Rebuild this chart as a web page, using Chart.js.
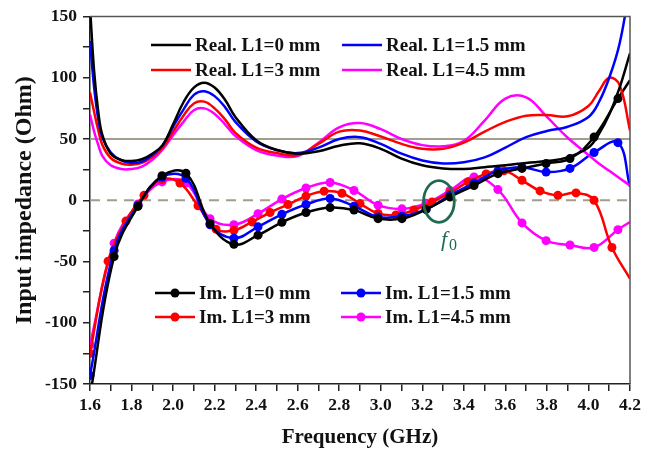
<!DOCTYPE html>
<html>
<head>
<meta charset="utf-8">
<script src="https://cdn.jsdelivr.net/npm/chart.js@4.4.1/dist/chart.umd.min.js"></script>
<style>
  html, body { margin: 0; padding: 0; background: #fff; }
</style>
</head>
<body>
<canvas id="impedance-chart" width="656" height="453"></canvas>
<script>
// frequency points (GHz) for the real parts
const freqReal = [1.6, 1.62, 1.64, 1.66, 1.7, 1.75, 1.8, 1.85, 1.9, 1.95,
  2.0, 2.05, 2.1, 2.15, 2.2, 2.25, 2.3,
  2.4, 2.5, 2.6, 2.7, 2.8, 2.9, 3.0, 3.1, 3.2, 3.3, 3.4, 3.5, 3.6, 3.7, 3.8, 3.9, 4.0,
  4.05, 4.1, 4.15, 4.2];

const realL0  = [158, 105, 72, 53, 38, 33, 32, 33.5, 38, 45, 62, 80, 92, 96, 92, 82, 68,
  49, 41, 38, 40, 44.5, 46.5, 42, 34, 28.5, 26, 25.5, 27, 28.5, 30.5, 32, 35, 43, 54, 70, 92, 120];
const realL15 = [130, 92, 66, 51, 39, 32.5, 30.5, 31.5, 37, 45, 60, 74, 86, 89, 85, 76, 64,
  48, 41, 38.5, 43, 50, 51.5, 46, 38, 32.5, 30, 31, 35, 43, 51.5, 56.5, 60, 68, 80, 100, 128, 175];
const realL3  = [88, 72, 57, 45, 34.5, 30, 29, 30.5, 35.5, 43, 56, 69, 79, 80.5, 75, 66, 55,
  43, 38.5, 37, 46, 56, 57, 52, 46, 42, 42, 47, 56, 64, 69, 69.5, 68.5, 77, 89, 100, 94, 57];
const realL45 = [70, 56, 45, 36, 28.5, 25.5, 25.5, 27.5, 33, 41.5, 53, 64, 73.5, 75, 70.5, 62, 52.5,
  41, 36.5, 36, 47, 59.5, 63, 58, 50, 45, 44, 48.5, 65, 83, 84, 68, 51, 37, 30, 24, 18, 12];

// imaginary parts: L1=0, 1.5, 4.5 mm sampled on one grid, L1=3 mm on another
const imFreqA = [1.6, 1.716, 1.831, 1.947, 2.062, 2.178, 2.293, 2.409, 2.524, 2.64, 2.756, 2.871,
  2.987, 3.102, 3.218, 3.333, 3.449, 3.564, 3.68, 3.796, 3.911, 4.027, 4.142, 4.2];
const imL0  = [-160, -46, -5, 20, 22, -19, -36, -28.5, -18, -10, -6, -8,
  -15, -15, -7.5, 2.7, 12, 21.7, 26, 30, 34, 51.6, 83, 98];
const imL15 = [-143, -41, -4, 19, 18, -20, -31, -21.7, -11.5, -3.5, 1.4, -4.8,
  -13.6, -13, -7.5, 4, 14, 24, 27, 23, 26, 39, 47, 11];
const imL45 = [-118, -35, -3, 15, 14, -15, -20, -11, 1, 10, 14.5, 8,
  -4, -7, -2.5, 8, 19, 8.7, -18.5, -33, -36.5, -38.5, -24, -17.7];

const imFreqB = [1.6, 1.687, 1.773, 1.86, 1.947, 2.033, 2.12, 2.207, 2.293, 2.38, 2.467, 2.553,
  2.64, 2.727, 2.813, 2.9, 2.987, 3.073, 3.16, 3.247, 3.333, 3.42, 3.507, 3.593, 3.68, 3.767,
  3.853, 3.94, 4.027, 4.113, 4.2];
const imL3 = [-125, -49.7, -17, 4, 17, 14, -4.5, -23.6, -24.5, -17.7, -10, -3.5,
  3.4, 7.4, 5.7, -2.7, -10.8, -12, -8, -1.4, 6, 15, 21.5, 24, 16.3, 7.6,
  4, 6, 0, -38.6, -64];

const refLevels = [50, 0];   // 50 Ohm line and zero line
const f0Mark = { x: 3.28, y: -1, rx: 0.074, ry: 17 };

const serif = '"Liberation Serif", "Times New Roman", serif';

function pts(xs, ys) {
  return xs.map((x, i) => ({ x: x, y: ys[i] }));
}

function realSet(label, color, ys) {
  return {
    label: label, data: pts(freqReal, ys), borderColor: color, backgroundColor: color,
    borderWidth: 2.5, pointRadius: 0, tension: 0.4, fill: false
  };
}

function imSet(label, color, xs, ys) {
  return {
    label: label, data: pts(xs, ys), borderColor: color, backgroundColor: color,
    borderWidth: 2.5, tension: 0.4, fill: false,
    pointRadius: (c) => (c.raw && c.raw.x > 4.19) ? 0 : 4.5,
    pointBorderWidth: 0
  };
}

function refSet(level, dash) {
  return {
    label: '', data: [{ x: 1.6, y: level }, { x: 4.2, y: level }],
    borderColor: '#a39d8d', borderWidth: 2, borderDash: dash, pointRadius: 0, order: 10
  };
}

// two legend blocks drawn by hand, like in the figure
const legendBlocks = {
  id: 'legendBlocks',
  afterDatasetsDraw(chart) {
    const ctx = chart.ctx;
    const ds = chart.data.datasets;
    const spots = [
      [0, 151, 45], [1, 342, 45], [2, 151, 70], [3, 342, 70],
      [4, 155, 293], [5, 341, 293], [6, 155, 317], [7, 341, 317]
    ];
    ctx.save();
    ctx.font = 'bold 19px ' + serif;
    ctx.textBaseline = 'middle';
    spots.forEach(([i, x, y]) => {
      const d = ds[i];
      ctx.strokeStyle = d.borderColor;
      ctx.lineWidth = 2.5;
      ctx.beginPath();
      ctx.moveTo(x, y);
      ctx.lineTo(x + 40, y);
      ctx.stroke();
      if (typeof d.pointRadius === 'function') {
        ctx.fillStyle = d.borderColor;
        ctx.beginPath();
        ctx.arc(x + 20, y, 4.5, 0, Math.PI * 2);
        ctx.fill();
      }
      ctx.fillStyle = '#111';
      ctx.fillText(d.label, x + 44, y + 1);
    });
    ctx.restore();
  }
};

// frame on top/right and the f0 ellipse
const extras = {
  id: 'extras',
  afterDatasetsDraw(chart) {
    const ctx = chart.ctx;
    const a = chart.chartArea;
    const xs = chart.scales.x, ys = chart.scales.y;
    ctx.save();
    ctx.strokeStyle = '#555';
    ctx.lineWidth = 1.5;
    ctx.beginPath();
    ctx.moveTo(a.left, a.top);
    ctx.lineTo(a.right, a.top);
    ctx.lineTo(a.right, a.bottom);
    ctx.stroke();

    const cx = xs.getPixelForValue(f0Mark.x);
    const cy = ys.getPixelForValue(f0Mark.y);
    const rx = xs.getPixelForValue(f0Mark.x + f0Mark.rx) - cx;
    const ry = cy - ys.getPixelForValue(f0Mark.y + f0Mark.ry);
    ctx.strokeStyle = '#1f6b4f';
    ctx.lineWidth = 2.8;
    ctx.beginPath();
    ctx.ellipse(cx, cy, rx, ry, 0, 0, Math.PI * 2);
    ctx.stroke();

    ctx.fillStyle = '#1f6b4f';
    ctx.textBaseline = 'alphabetic';
    ctx.font = 'italic 22px ' + serif;
    const fx = xs.getPixelForValue(3.29);
    const fy = ys.getPixelForValue(-37);
    ctx.fillText('f', fx, fy);
    ctx.font = '16px ' + serif;
    ctx.fillText('0', fx + 8, fy + 4);
    ctx.restore();
  }
};

const tickFont = { family: serif, weight: 'bold', size: 17.5 };

new Chart(document.getElementById('impedance-chart').getContext('2d'), {
  type: 'line',
  data: {
    datasets: [
      realSet('Real. L1=0 mm', '#000000', realL0),
      realSet('Real. L1=1.5 mm', '#0000ff', realL15),
      realSet('Real. L1=3 mm', '#ff0000', realL3),
      realSet('Real. L1=4.5 mm', '#ff00ff', realL45),
      imSet('Im. L1=0 mm', '#000000', imFreqA, imL0),
      imSet('Im. L1=1.5 mm', '#0000ff', imFreqA, imL15),
      imSet('Im. L1=3 mm', '#ff0000', imFreqB, imL3),
      imSet('Im. L1=4.5 mm', '#ff00ff', imFreqA, imL45),
      refSet(refLevels[0], []),
      refSet(refLevels[1], [10, 7])
    ]
  },
  options: {
    responsive: false,
    animation: false,
    layout: { padding: { left: 0, right: 26, top: 15, bottom: 0 } },
    plugins: { legend: { display: false }, tooltip: { enabled: false } },
    scales: {
      x: {
        type: 'linear', min: 1.6, max: 4.2,
        afterFit: (s) => { s.height = 69; },
        ticks: {
          stepSize: 0.1, autoSkip: false, maxRotation: 0, padding: 4,
          color: '#111', font: tickFont,
          callback: (v) => { const t = Math.round(v * 10); return t % 2 === 0 ? (t / 10).toFixed(1) : ''; }
        },
        grid: { drawOnChartArea: false, drawTicks: true, tickLength: 7, color: '#222', lineWidth: 1.5 },
        border: { color: '#222', width: 1.5 },
        title: { display: true, text: 'Frequency (GHz)', color: '#111',
          font: { family: serif, weight: 'bold', size: 21 }, padding: { top: 0, bottom: 3 } }
      },
      y: {
        min: -150, max: 150,
        afterFit: (s) => { s.width = 90; },
        ticks: {
          stepSize: 25, padding: 6, color: '#111', font: tickFont,
          callback: (v) => (v % 50 === 0 ? v : '')
        },
        grid: { drawOnChartArea: false, drawTicks: true, tickLength: 7, color: '#222', lineWidth: 1.5 },
        border: { color: '#222', width: 1.5 },
        title: { display: true, text: 'Input impedance (Ohm)', color: '#111',
          font: { family: serif, weight: 'bold', size: 24 }, padding: { top: 10, bottom: 0 } }
      }
    }
  },
  plugins: [legendBlocks, extras]
});
</script>
</body>
</html>
